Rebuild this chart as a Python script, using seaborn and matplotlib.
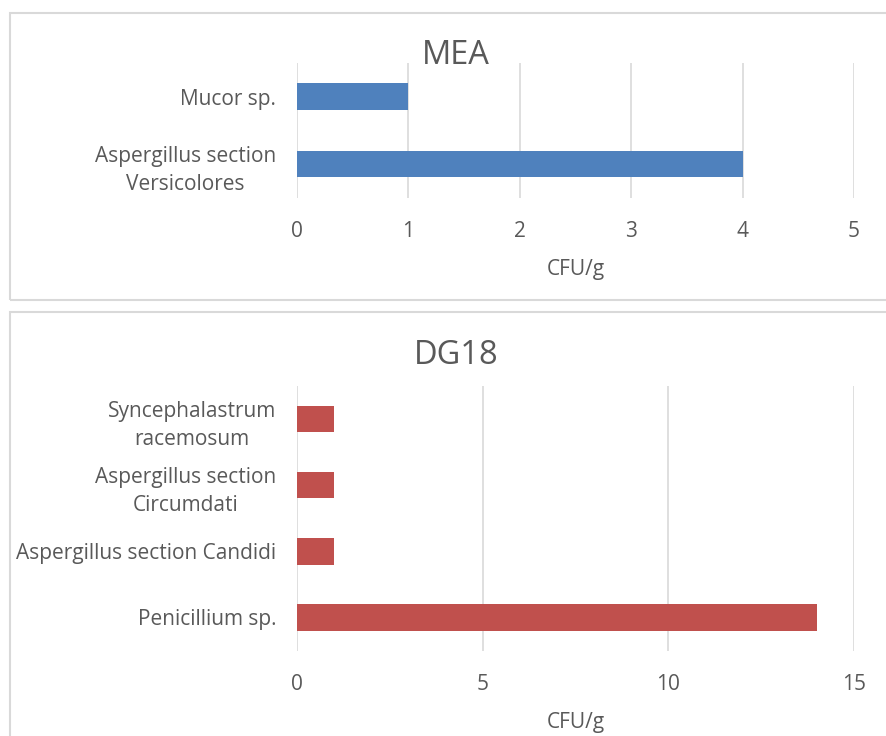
import numpy as np
import pandas as pd
import matplotlib
matplotlib.use("Agg")
import matplotlib.pyplot as plt
import seaborn as sns
from matplotlib.patches import Rectangle

# data ..............................................................
mea_species = ["Mucor sp.", "Aspergillus section\nVersicolores"]
mea_cfu = [1, 4]

dg18_species = ["Syncephalastrum\nracemosum", "Aspergillus section\nCircumdati",
                "Aspergillus section Candidi", "Penicillium sp."]
dg18_cfu = [1, 1, 1, 14]

sns.set_theme(style="white")
plt.rcParams['font.family'] = ['Open Sans', 'DejaVu Sans']

TXT = '#595959'
GRID = '#D9D9D9'

fig = plt.figure(figsize=(8.87, 7.36), dpi=100)

# panel frames
fig.patches.append(Rectangle((10 / 887, 1 - 300 / 736), 0.995, 287 / 736, transform=fig.transFigure,
                             fill=False, edgecolor=GRID, lw=1.5, zorder=0))
fig.patches.append(Rectangle((10 / 887, -0.05), 0.995, 0.05 + 424 / 736, transform=fig.transFigure,
                             fill=False, edgecolor=GRID, lw=1.5, zorder=0))

ax1 = fig.add_axes([297 / 887, 1 - 197.7 / 736, 557 / 887, 134.7 / 736])
ax2 = fig.add_axes([297 / 887, 1 - 650.5 / 736, 557 / 887, 264.5 / 736])


def draw(ax, names, vals, color, xmax, step, title, title_y):
    df = pd.DataFrame({'species': names, 'cfu': vals})
    sns.barplot(data=df, x='cfu', y='species', orient='h', color=color,
                saturation=1, width=0.4, linewidth=0, ax=ax)
    ax.set_xlim(0, xmax)
    ax.set_ylim(len(names) - 0.5, -0.5)
    ax.set_xticks(np.arange(0, xmax + 1, step))
    ax.grid(axis='x', color=GRID, lw=1.2)
    ax.set_axisbelow(True)
    for s in ax.spines.values():
        s.set_visible(False)
    ax.tick_params(axis='both', length=0, labelsize=15, labelcolor=TXT)
    ax.tick_params(axis='x', pad=17)
    ax.tick_params(axis='y', pad=15)
    for t in ax.get_yticklabels():
        t.set_multialignment('center')
        t.set_linespacing(1.45)
    ax.set_ylabel('')
    ax.set_xlabel('CFU/g', fontsize=15, color=TXT, labelpad=12)
    fig.text(456 / 887, 1 - title_y / 736, title, fontsize=23.5, color=TXT,
             ha='center', va='center')


draw(ax1, mea_species, mea_cfu, '#4F81BD', 5, 1, 'MEA', 56)
draw(ax2, dg18_species, dg18_cfu, '#C0504D', 15, 5, 'DG18', 356)

plt.savefig('out.png', dpi=100)
plt.close()
